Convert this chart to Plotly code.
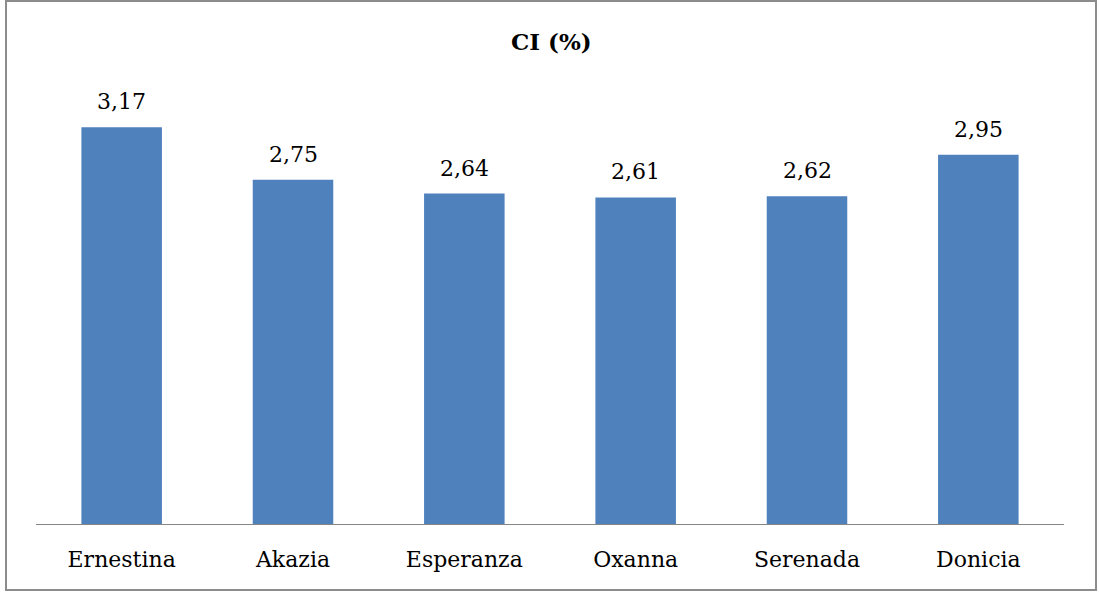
import plotly.graph_objects as go

varieties = ["Ernestina", "Akazia", "Esperanza", "Oxanna", "Serenada", "Donicia"]
ci_values = [3.17, 2.75, 2.64, 2.61, 2.62, 2.95]
value_labels = ["3,17", "2,75", "2,64", "2,61", "2,62", "2,95"]

W, H = 1099, 594
L, R, T, B = 36, 35, 86, 70
pw, ph = W - L - R, H - T - B

def px(x):
    return (x - L) / pw

def py(y):
    return (H - B - y) / ph

font = "DejaVu Serif"

fig = go.Figure(
    go.Bar(
        x=varieties,
        y=ci_values,
        marker=dict(color="#4F81BD", line=dict(width=0)),
        width=0.47,
        hoverinfo="x+y",
    )
)

# value labels sitting just above each bar
value_annotations = [
    dict(
        x=v, y=c, text=t,
        xref="x", yref="y",
        xanchor="center", yanchor="bottom",
        yshift=11, showarrow=False,
        font=dict(family=font, size=22, color="#000000"),
    )
    for v, c, t in zip(varieties, ci_values, value_labels)
]

fig.update_layout(
    width=W,
    height=H,
    margin=dict(l=L, r=R, t=T, b=B),
    paper_bgcolor="white",
    plot_bgcolor="white",
    showlegend=False,
    bargap=0.53,
    annotations=value_annotations + [
        dict(
            text="<b>CI (%)</b>",
            x=px(551), y=py(42),
            xref="paper", yref="paper",
            xanchor="center", yanchor="middle",
            showarrow=False,
            font=dict(family=font, size=23, color="#000000"),
        )
    ],
    shapes=[
        dict(type="rect", xref="paper", yref="paper",
             x0=px(6), x1=px(1096), y0=py(590), y1=py(1),
             line=dict(color="#8C8C8C", width=2), layer="below"),
    ],
)

fig.update_xaxes(
    showline=True, linecolor="#868686", linewidth=1,
    ticks="", showgrid=False,
    tickfont=dict(family=font, size=22, color="#000000"),
    ticklabelstandoff=16,
)
fig.update_yaxes(range=[0, 3.5], visible=False, showgrid=False, zeroline=False)

fig.write_html("out.html")
